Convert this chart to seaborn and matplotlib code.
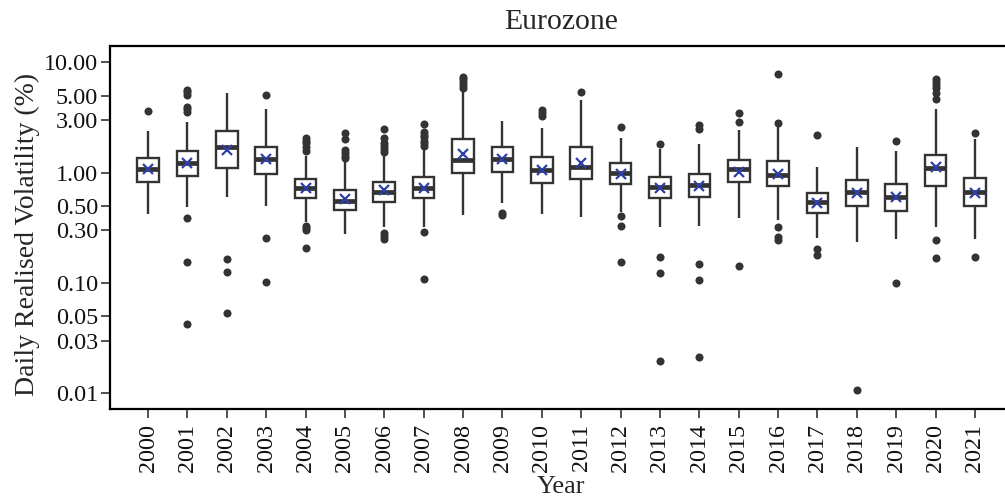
import numpy as np
import pandas as pd
import matplotlib
matplotlib.use("Agg")
import matplotlib.pyplot as plt
import seaborn as sns

years = [str(y) for y in range(2000, 2022)]

whisker_low = [0.42, 0.485, 0.598, 0.50, 0.36, 0.276, 0.324, 0.324, 0.414, 0.528, 0.42,
               0.394, 0.437, 0.324, 0.329, 0.386, 0.372, 0.254, 0.235, 0.249, 0.324, 0.249]
q1 = [0.83, 0.94, 1.10, 0.97, 0.59, 0.456, 0.54, 0.59, 1.00, 1.02, 0.80,
      0.87, 0.79, 0.59, 0.60, 0.82, 0.76, 0.434, 0.50, 0.452, 0.757, 0.50]
median = [1.09, 1.23, 1.71, 1.33, 0.72, 0.55, 0.668, 0.72, 1.30, 1.34, 1.06,
          1.13, 0.99, 0.74, 0.77, 1.07, 0.95, 0.546, 0.673, 0.598, 1.10, 0.668]
q3 = [1.35, 1.58, 2.40, 1.72, 0.87, 0.69, 0.83, 0.92, 2.01, 1.72, 1.40,
      1.72, 1.22, 0.92, 0.97, 1.30, 1.28, 0.65, 0.86, 0.79, 1.45, 0.89]
whisker_high = [2.40, 2.90, 5.31, 3.78, 1.42, 1.26, 1.45, 1.66, 5.62, 2.96, 2.56,
                4.56, 2.05, 1.63, 1.82, 2.44, 2.58, 1.13, 1.70, 1.58, 3.76, 2.02]
means = [1.07, 1.22, 1.61, 1.32, 0.72, 0.574, 0.69, 0.73, 1.47, 1.34, 1.06,
         1.23, 0.97, 0.73, 0.76, 1.02, 0.97, 0.528, 0.66, 0.606, 1.12, 0.66]
outliers = [
    [3.65],
    [5.6, 5.35, 5.06, 3.97, 3.75, 3.57, 0.386, 0.154, 0.0422],
    [0.166, 0.126, 0.053],
    [5.06, 0.257, 0.103],
    [2.05, 1.95, 1.85, 1.7, 1.57, 0.329, 0.315, 0.302, 0.206],
    [2.31, 2.01, 1.61, 1.5, 1.42, 1.35],
    [2.47, 2.08, 1.85, 1.75, 1.65, 1.55, 0.282, 0.265, 0.249],
    [2.75, 2.35, 2.2, 2.1, 1.95, 1.85, 1.75, 0.288, 0.109],
    [7.4, 7.0, 6.6, 6.2, 5.9],
    [0.43, 0.41],
    [3.7, 3.45, 3.25],
    [5.36],
    [2.58, 0.408, 0.331, 0.154],
    [1.83, 0.171, 0.124, 0.0198],
    [2.68, 2.5, 0.149, 0.106, 0.0215],
    [3.50, 2.90, 0.143],
    [7.80, 2.84, 0.324, 0.263, 0.246],
    [2.18, 0.202, 0.180],
    [0.0107],
    [1.95, 0.101],
    [7.0, 6.6, 6.2, 5.8, 5.3, 4.7, 0.246, 0.167],
    [2.30, 0.171],
]

# ---- build long tables for seaborn ----
box_rows = []
for i, y in enumerate(years):
    for v in (whisker_low[i], q1[i], median[i], q3[i], whisker_high[i]):
        box_rows.append((y, v))
box_df = pd.DataFrame(box_rows, columns=["Year", "Vol"])

out_rows = [(y, v) for y, vals in zip(years, outliers) for v in vals]
out_df = pd.DataFrame(out_rows, columns=["Year", "Vol"])

mean_df = pd.DataFrame({"Year": years, "Vol": means})

sns.set_style("ticks")
plt.rcParams["font.family"] = ["Liberation Serif", "DejaVu Serif"]

fig = plt.figure(figsize=(10.05, 5.0), dpi=100)
ax = fig.add_axes([110 / 1005, 1 - 409.3 / 500, (1013 - 110) / 1005, (409.3 - 46) / 500])

line_col = "#333333"
sns.boxplot(data=box_df, x="Year", y="Vol", order=years, ax=ax, whis=(0, 100),
            showfliers=False, showcaps=False, color="white", linecolor=line_col,
            linewidth=1.7, width=0.55, log_scale=True,
            medianprops={"linewidth": 3.4, "color": line_col})

sns.stripplot(data=out_df, x="Year", y="Vol", order=years, ax=ax, jitter=False,
              color=line_col, size=5.8, linewidth=0, zorder=3)

sns.pointplot(data=mean_df, x="Year", y="Vol", order=years, ax=ax, errorbar=None,
              linestyle="none", marker="x", color="#2f3fa8", markersize=7.5,
              markeredgewidth=1.6, zorder=5)

ax.set_yscale("log")
ax.set_ylim(0.00716, 14.08)
ax.set_xlim(-0.965, 21.965)
yt = [0.01, 0.03, 0.05, 0.1, 0.3, 0.5, 1, 3, 5, 10]
ax.set_yticks(yt)
ax.set_yticklabels([f"{v:.2f}" for v in yt])
ax.yaxis.set_minor_locator(matplotlib.ticker.NullLocator())
ax.set_xticks(range(len(years)))
ax.set_xticklabels(years, rotation=90)

for s in ax.spines.values():
    s.set_linewidth(1.6)
    s.set_color("black")
ax.tick_params(axis="both", labelsize=17.4, length=6.5, width=1.2, color="#333333",
               labelcolor="#111111")
ax.tick_params(axis="x", pad=4)
ax.tick_params(axis="y", pad=2)

ax.set_xlabel("Year", fontsize=19, labelpad=3)
ax.set_ylabel("Daily Realised Volatility (%)", fontsize=20, labelpad=3)
ax.yaxis.label.set_y(0.48)
ax.set_title("Eurozone", fontsize=21.3, pad=12)

fig.savefig("out.png", dpi=100)
